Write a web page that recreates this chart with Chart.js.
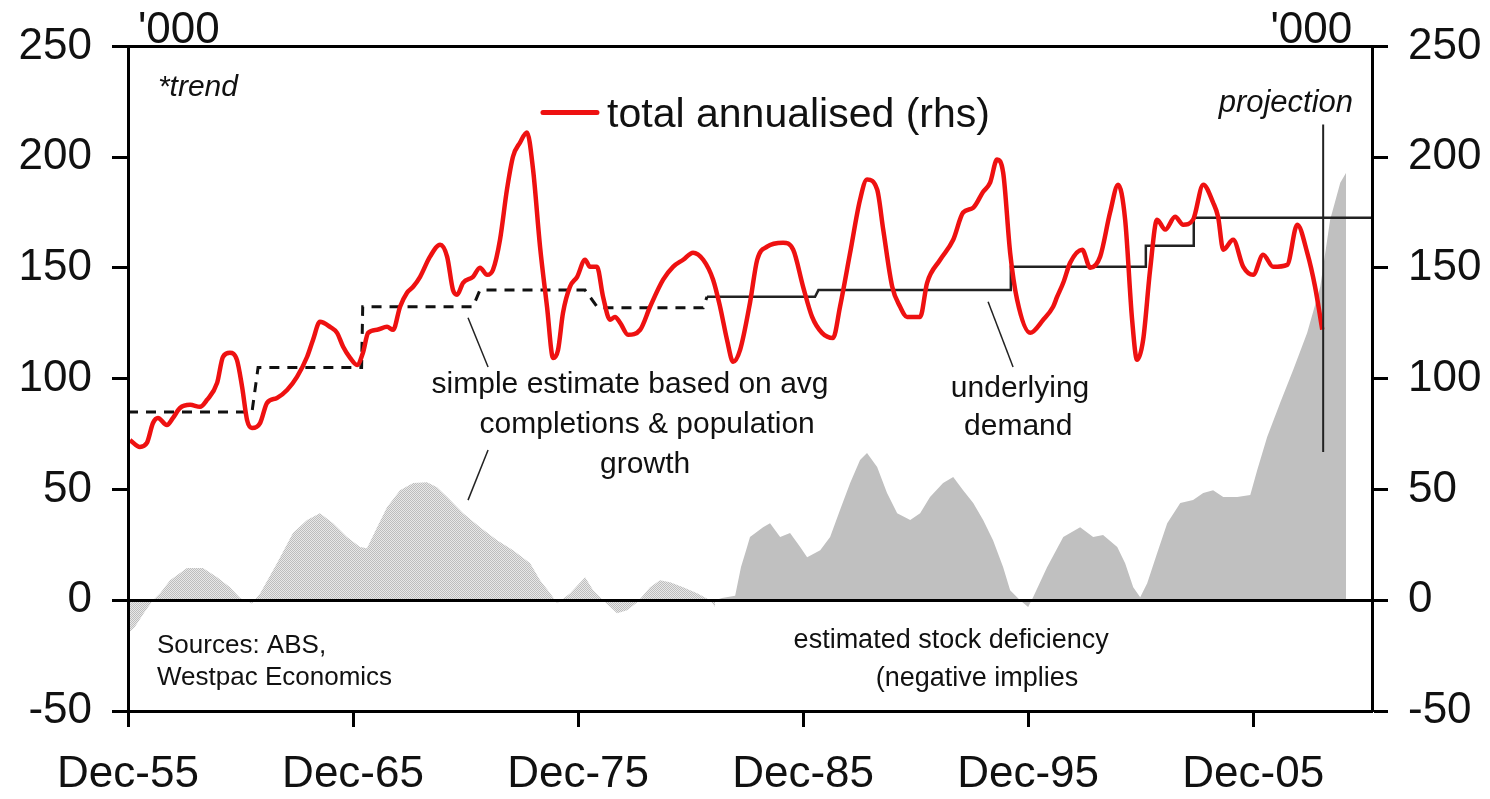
<!DOCTYPE html>
<html>
<head>
<meta charset="utf-8">
<script src="https://cdn.jsdelivr.net/npm/chart.js@4.4.1/dist/chart.umd.min.js"></script>
<style>
  body { margin: 0; background: #fff; }
  #wrap { width: 1490px; height: 799px; }
</style>
</head>
<body>
<div id="wrap"><canvas id="myChart" width="1490" height="799"></canvas></div>
<script>
// x values are decimal years, y values are '000 dwellings
const tickYears = [1955.92, 1965.92, 1975.92, 1985.92, 1995.92, 2005.92];
const tickLabels = ["Dec-55", "Dec-65", "Dec-75", "Dec-85", "Dec-95", "Dec-05"];

// total annualised (rhs), red
const redYears = [1956.01,1956.45,1956.76,1957.03,1957.25,1957.65,1957.92,1958.23,1958.68,1959.12,
  1959.43,1959.88,1960.14,1960.45,1960.76,1960.99,1961.21,1961.43,1961.79,1962.10,
  1962.54,1962.99,1963.43,1963.88,1964.14,1964.45,1964.90,1965.21,1965.48,1965.79,
  1966.10,1966.36,1966.59,1966.99,1967.43,1967.70,1968.01,1968.32,1968.59,1968.90,
  1969.34,1969.79,1970.10,1970.36,1970.54,1970.81,1971.25,1971.56,1971.88,1972.14,
  1972.45,1972.76,1973.03,1973.34,1973.65,1973.92,1974.23,1974.54,1974.81,1975.03,
  1975.25,1975.56,1975.88,1976.23,1976.45,1976.76,1977.03,1977.34,1977.56,1977.79,
  1978.14,1978.68,1979.12,1979.70,1980.14,1980.59,1981.03,1981.48,1981.92,1982.23,
  1982.54,1982.81,1983.12,1983.56,1983.88,1984.32,1985.03,1985.48,1985.92,1986.32,
  1986.76,1987.25,1987.56,1988.01,1988.45,1988.76,1989.21,1989.48,1989.88,1990.23,
  1990.54,1991.12,1991.43,1992.01,1992.59,1993.03,1993.48,1993.92,1994.23,1994.54,
  1994.81,1995.12,1995.43,1996.01,1996.59,1997.03,1997.21,1997.48,1997.79,1998.32,
  1998.68,1999.12,1999.56,1999.92,2000.23,2000.54,2000.76,2001.03,2001.34,2001.65,
  2002.01,2002.45,2002.81,2003.25,2003.70,2004.14,2004.36,2004.59,2005.03,2005.48,
  2005.92,2006.36,2006.81,2007.43,2007.88,2008.32,2008.67,2008.99];
const redValues = [72.3,69.2,71.0,80.0,82.3,79.1,82.3,86.8,88.2,87.3,
  90.4,98.1,109.9,111.7,108.5,96.3,81.4,77.8,80.0,89.1,
  91.3,94.9,100.8,109.9,117.5,125.7,123.4,120.7,114.4,109.4,
  106.2,111.7,120.7,122.1,123.4,122.1,132.5,138.8,141.5,146.0,
  155.1,160.5,155.1,140.1,137.9,143.3,146.0,150.1,146.9,149.2,
  162.7,185.4,200.3,206.6,211.1,194.4,159.6,132.5,109.4,113.0,
  129.7,141.5,146.0,153.7,150.5,150.5,137.0,126.6,127.9,125.2,
  119.8,122.1,132.5,144.7,150.5,153.7,156.9,153.7,144.7,132.5,
  117.5,107.6,113.0,134.3,153.7,159.6,161.4,158.2,141.5,127.9,
  120.7,118.4,132.5,156.9,180.8,189.9,185.4,167.3,141.5,132.5,
  127.9,127.9,143.3,153.7,162.7,175.0,177.2,184.4,188.5,198.9,
  193.0,156.9,135.6,120.7,126.6,132.5,137.0,143.3,152.4,158.2,
  150.1,155.1,175.0,187.6,171.8,126.6,108.5,117.5,149.2,171.8,
  167.3,173.1,169.5,171.8,187.6,179.5,173.1,158.2,162.7,150.5,
  146.9,156.0,150.5,151.4,169.5,156.9,141.5,122.1];

// simple estimate (dashed) and underlying demand (solid)
const estYears = [1955.92,1961.43,1961.70,1966.30,1966.35,1971.25,1971.56,1976.23,1976.80,1981.48,1981.65];
const estValues = [85,85,105,105,132.5,132.5,140,140,132,132,137];
const demYears = [1981.65,1986.45,1986.60,1995.12,1995.15,2001.12,2001.15,2003.25,2003.28,2011.2];
const demValues = [137,137,140,140,150.5,150.5,160,160,172.7,172.7];

// estimated stock deficiency, early (stippled) and later (solid) parts
const defEarlyYears = [1955.92,1956.23,1956.68,1957.03,1957.34,1957.79,1958.54,1959.25,1959.88,1960.45,
  1960.90,1961.43,1961.79,1962.54,1963.25,1963.88,1964.45,1965.03,1965.65,1966.23,
  1966.54,1966.99,1967.43,1968.01,1968.59,1969.21,1969.65,1970.10,1970.81,1971.56,
  1972.32,1973.03,1973.79,1974.23,1974.68,1974.99,1975.56,1976.23,1976.59,1977.03,
  1977.65,1978.10,1978.54,1979.12,1979.56,1980.01,1980.59,1981.21,1981.79,1982.01];
const defEarlyValues = [-15,-12,-5,0,3,9,14.5,14.5,10.4,5.9,
  1,-1.5,3,16.7,30.3,36.2,39.3,34.8,28.5,24.0,
  23.5,33,42,49.7,52.9,53.3,51,46.6,39.3,33,
  27.1,22.6,16.7,9,3.2,-1.4,3,10.4,4.5,0,
  -5.9,-4.5,-1,5.9,9,8.1,5.9,3.2,0,-3];
const defLateYears = [1982.01,1982.32,1982.90,1983.16,1983.43,1983.56,1984.14,1984.45,1984.90,1985.34,
  1985.79,1986.10,1986.68,1987.12,1987.56,1988.01,1988.45,1988.76,1989.21,1989.65,
  1990.10,1990.68,1991.12,1991.56,1992.14,1992.59,1993.03,1993.48,1993.92,1994.36,
  1994.81,1995.12,1995.56,1995.92,1996.14,1996.76,1997.48,1998.23,1998.81,1999.25,
  1999.88,2000.23,2000.59,2000.90,2001.21,2001.65,2002.10,2002.68,2003.25,2003.70,
  2004.14,2004.59,2005.21,2005.79,2006.10,2006.54,2007.12,2007.70,2008.32,2008.90,
  2009.34,2009.79,2010.05];
const defLateValues = [0,1,2,15,24,28.5,33,34.8,28.5,30.3,
  24,19.4,22.6,28.5,40.7,52.9,63.3,66.5,60.1,48.4,
  39.3,36.2,39.3,46.6,52.9,55.6,49.7,43.9,36.2,27.1,
  14.9,4.5,0,-3,1.4,14.9,28.5,33,28.5,29.4,
  24,16.7,5.9,1.4,7.7,21.2,34.8,43.9,45.2,48.4,
  49.7,46.6,46.6,47.5,58.8,73.7,89.1,104,120.7,141.5,
  171.8,188.5,193];

const FONT = '"Liberation Sans", Arial, sans-serif';

function pts(xs, ys) {
  return xs.map((x, i) => ({ x: x, y: ys[i] }));
}

// stipple for the early part of the deficiency area
const pc = document.createElement("canvas");
pc.width = 2; pc.height = 2;
const pctx = pc.getContext("2d");
pctx.fillStyle = "#e8e8e8"; pctx.fillRect(0, 0, 2, 2);
pctx.fillStyle = "#bdbdbd"; pctx.fillRect(0, 0, 1, 1); pctx.fillRect(1, 1, 1, 1);
const stipple = pctx.createPattern(pc, "repeat");

// notes, placed in data units
const notes = [
  { text: "'000", x: 1956.36, y: 251.4, size: 44, align: "left" },
  { text: "'000", x: 2010.32, y: 251.4, size: 44, align: "right" },
  { text: "*trend", x: 1957.25, y: 227.4, size: 30, align: "left", style: "italic" },
  { text: "total annualised (rhs)", x: 1977.21, y: 213.8, size: 41, align: "left" },
  { text: "projection", x: 2010.36, y: 220.6, size: 31, align: "right", style: "italic" },
  { text: "simple estimate based on avg", x: 1978.23, y: 93.6, size: 30, align: "center" },
  { text: "completions & population", x: 1978.99, y: 75.5, size: 30, align: "center" },
  { text: "growth", x: 1978.90, y: 57.4, size: 30, align: "center" },
  { text: "underlying", x: 1995.56, y: 91.8, size: 30, align: "center" },
  { text: "demand", x: 1995.48, y: 74.6, size: 30, align: "center" },
  { text: "Sources: ABS,", x: 1957.21, y: -24.0, size: 26, align: "left" },
  { text: "Westpac Economics", x: 1957.21, y: -38.4, size: 26, align: "left" },
  { text: "estimated stock deficiency", x: 1992.5, y: -21.7, size: 27, align: "center" },
  { text: "(negative implies", x: 1993.65, y: -38.9, size: 27, align: "center" }
];
const leaders = [
  { x1: 1971.03, y1: 127.5, x2: 1971.92, y2: 105.3, w: 1.5 },
  { x1: 1971.92, y1: 67.8, x2: 1971.03, y2: 45.2, w: 1.5 },
  { x1: 1994.14, y1: 134.7, x2: 1995.25, y2: 105.3, w: 1.5 },
  { x1: 2009.03, y1: 214.7, x2: 2009.03, y2: 66.9, w: 2 }
];
const legendKey = { x1: 1974.36, x2: 1976.76, y: 220.2 };

const notesPlugin = {
  id: "notes",
  afterDraw(chart) {
    const c = chart.ctx, sx = chart.scales.x, sy = chart.scales.y;
    c.save();
    c.strokeStyle = "#222";
    leaders.forEach(l => {
      c.lineWidth = l.w;
      c.beginPath();
      c.moveTo(sx.getPixelForValue(l.x1), sy.getPixelForValue(l.y1));
      c.lineTo(sx.getPixelForValue(l.x2), sy.getPixelForValue(l.y2));
      c.stroke();
    });
    c.strokeStyle = "#ee1111";
    c.lineWidth = 5;
    c.lineCap = "round";
    c.beginPath();
    c.moveTo(sx.getPixelForValue(legendKey.x1), sy.getPixelForValue(legendKey.y));
    c.lineTo(sx.getPixelForValue(legendKey.x2), sy.getPixelForValue(legendKey.y));
    c.stroke();
    c.fillStyle = "#111";
    c.textBaseline = "alphabetic";
    notes.forEach(n => {
      c.font = (n.style || "normal") + " " + n.size + "px " + FONT;
      c.textAlign = n.align;
      c.fillText(n.text, sx.getPixelForValue(n.x), sy.getPixelForValue(n.y));
    });
    c.restore();
  }
};

const tickFont = { family: FONT, size: 44 };

new Chart("myChart", {
  type: "line",
  data: {
    datasets: [
      {
        label: "total annualised (rhs)",
        data: pts(redYears, redValues),
        borderColor: "#ee1111",
        borderWidth: 4.5,
        pointRadius: 0,
        cubicInterpolationMode: "monotone",
        fill: false,
        order: 0
      },
      {
        label: "simple estimate",
        data: pts(estYears, estValues),
        borderColor: "#111",
        borderWidth: 3,
        borderDash: [10, 8],
        pointRadius: 0,
        tension: 0,
        fill: false,
        order: 1
      },
      {
        label: "underlying demand",
        data: pts(demYears, demValues),
        borderColor: "#222",
        borderWidth: 2.5,
        pointRadius: 0,
        tension: 0,
        fill: false,
        order: 1
      },
      {
        label: "deficiency early",
        data: pts(defEarlyYears, defEarlyValues),
        borderWidth: 0,
        borderColor: "rgba(0,0,0,0)",
        backgroundColor: stipple,
        pointRadius: 0,
        tension: 0,
        fill: "origin",
        order: 2
      },
      {
        label: "estimated stock deficiency",
        data: pts(defLateYears, defLateValues),
        borderWidth: 0,
        borderColor: "rgba(0,0,0,0)",
        backgroundColor: "#c0c0c0",
        pointRadius: 0,
        tension: 0,
        fill: "origin",
        order: 2
      }
    ]
  },
  options: {
    responsive: false,
    animation: false,
    layout: { padding: { top: 45, left: 0, right: 0, bottom: 0 } },
    plugins: { legend: { display: false }, tooltip: { enabled: false } },
    scales: {
      x: {
        type: "linear",
        min: 1955.92,
        max: 2011.2,
        afterBuildTicks: s => { s.ticks = tickYears.map(v => ({ value: v })); },
        afterFit: s => { s.height = 88; },
        ticks: {
          autoSkip: false, maxRotation: 0, padding: 21,
          color: "#111", font: tickFont,
          callback: (v, i) => tickLabels[i]
        },
        grid: { drawOnChartArea: false, tickLength: 16, tickColor: "#000", tickWidth: 3 },
        border: { display: true, color: "#000", width: 3 }
      },
      y: {
        type: "linear",
        position: "left",
        min: -50, max: 250,
        afterFit: s => { s.width = 128; },
        ticks: { stepSize: 50, padding: 20, color: "#111", font: tickFont },
        grid: {
          z: 1,
          color: c => (c.tick && (c.tick.value === 0 || c.tick.value === 250)) ? "#000" : "rgba(0,0,0,0)",
          lineWidth: 3, tickLength: 16, tickColor: "#000", tickWidth: 3
        },
        border: { display: true, color: "#000", width: 3, z: 1 }
      },
      y2: {
        type: "linear",
        position: "right",
        min: -50, max: 250,
        afterFit: s => { s.width = 118; },
        ticks: { stepSize: 50, padding: 20, color: "#111", font: tickFont },
        grid: { drawOnChartArea: false, tickLength: 16, tickColor: "#000", tickWidth: 3, z: 1 },
        border: { display: true, color: "#000", width: 3, z: 1 }
      }
    }
  },
  plugins: [notesPlugin]
});
</script>
</body>
</html>
